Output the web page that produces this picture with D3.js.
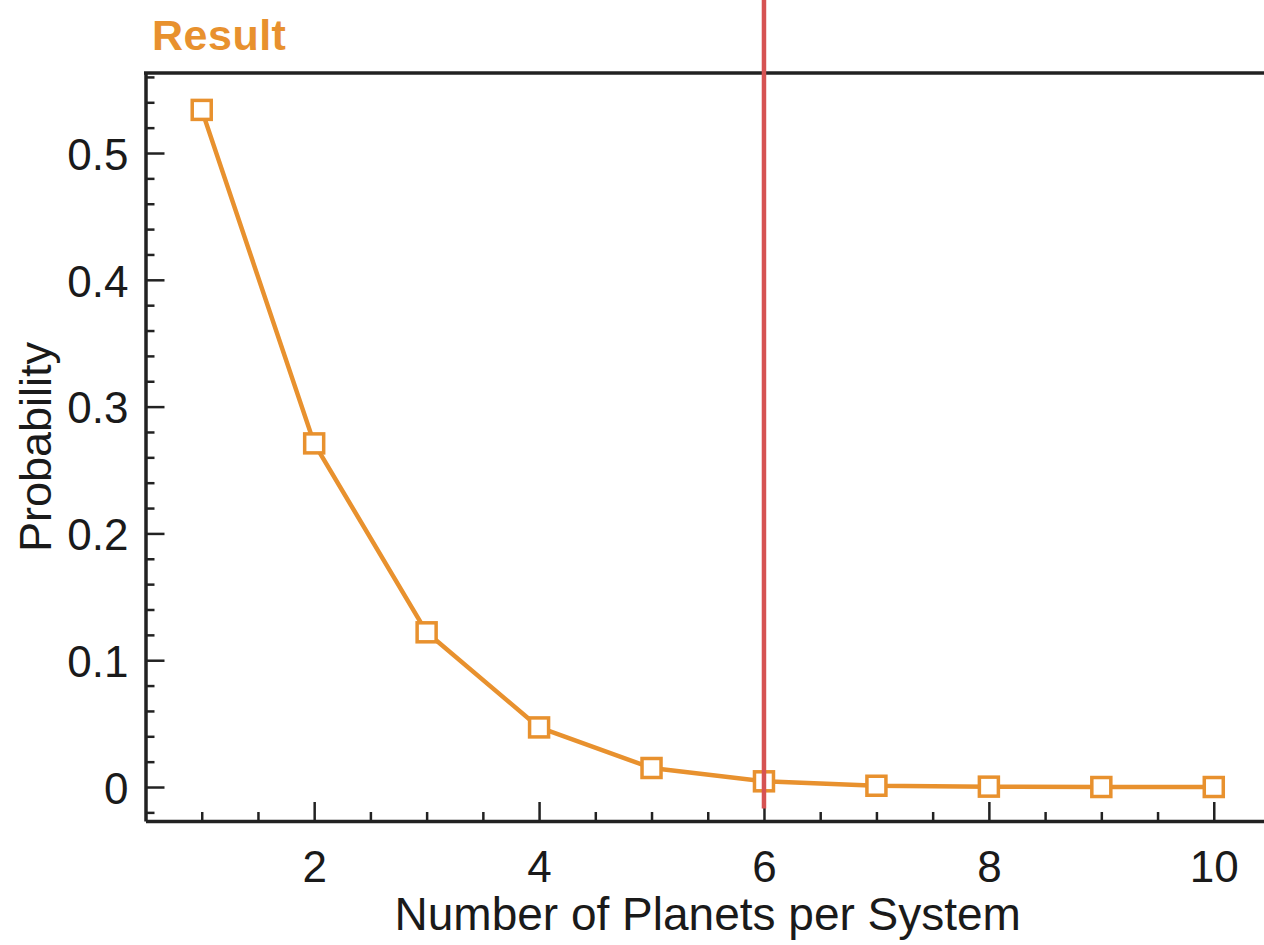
<!DOCTYPE html>
<html>
<head>
<meta charset="utf-8">
<script src="https://cdn.jsdelivr.net/npm/d3@7"></script>
<style>
  html, body { margin: 0; padding: 0; background: #fff; }
  svg { display: block; }
  text { font-family: "Liberation Sans", Arial, Helvetica, sans-serif; fill: #1a1a1a; }
</style>
</head>
<body>
<svg id="chart" width="1264" height="945"></svg>
<script>
// Number of planets in a system and its probability
const planets = [1, 2, 3, 4, 5, 6, 7, 8, 9, 10];
const probability = [0.534, 0.271, 0.122, 0.047, 0.015, 0.0045, 0.001, 0.0003, 0.0, 0.0];

// Axis ticks and labels
const xMajorTicks = [2, 4, 6, 8, 10];
const xMinorTicks = [1, 1.5, 2.5, 3, 3.5, 4.5, 5, 5.5, 6.5, 7, 7.5, 8.5, 9, 9.5, 10.5];
const yMajorTicks = [0, 0.1, 0.2, 0.3, 0.4, 0.5];
const yMinorTicks = [-0.02, 0.02, 0.04, 0.06, 0.08, 0.12, 0.14, 0.16, 0.18, 0.22, 0.24, 0.26, 0.28,
                     0.32, 0.34, 0.36, 0.38, 0.42, 0.44, 0.46, 0.48, 0.52, 0.54, 0.56];
const cutoff = 6;

const titleText = "Result";
const xLabel = "Number of Planets per System";
const yLabel = "Probability";

const orange = "#e8912e";
const red = "#d65353";

const svg = d3.select("#chart");
const plotLeft = 145.5, plotRight = 1270, plotTop = 73, plotBottom = 821;

const x = d3.scaleLinear().domain([0.5, 10.5]).range([plotLeft, plotRight]);
const y = d3.scaleLinear().domain([-0.0268, 0.5631]).range([plotBottom, plotTop]);

// Title
svg.append("text")
  .attr("x", 152).attr("y", 50)
  .style("font-size", "43px").style("font-weight", "bold")
  .style("letter-spacing", "0.5px")
  .style("fill", orange)
  .text(titleText);

// Top frame line
svg.append("line")
  .attr("x1", plotLeft - 1.5).attr("x2", plotRight).attr("y1", plotTop).attr("y2", plotTop)
  .attr("stroke", "#222").attr("stroke-width", 3.5);

// X axis: major and minor ticks pointing inward
const gx = svg.append("g").attr("transform", `translate(0,${plotBottom})`);
gx.call(d3.axisBottom(x).tickValues(xMajorTicks).tickSize(-19).tickSizeOuter(0).tickPadding(30)
  .tickFormat(d3.format("d")));
gx.append("g").call(d3.axisBottom(x).tickValues(xMinorTicks).tickSize(-9).tickSizeOuter(0).tickFormat(""))
  .select(".domain").remove();

// Y axis
const gy = svg.append("g").attr("transform", `translate(${plotLeft},0)`);
gy.call(d3.axisLeft(y).tickValues(yMajorTicks).tickSize(-19).tickSizeOuter(0).tickPadding(17)
  .tickFormat(d => d === 0 ? "0" : d3.format(".1f")(d)));
gy.append("g").call(d3.axisLeft(y).tickValues(yMinorTicks).tickSize(-9).tickSizeOuter(0).tickFormat(""))
  .select(".domain").remove();

svg.selectAll(".domain").attr("stroke", "#222").attr("stroke-width", 3.5);
svg.selectAll(".tick line").attr("stroke", "#222").attr("stroke-width", 2.5);
svg.selectAll(".tick text").style("font-size", "44px").attr("fill", "#1a1a1a")
  .style("font-family", "'Liberation Sans', Arial, sans-serif");
gy.selectAll(".tick text").attr("dy", "0.37em");
gx.selectAll(".tick text").attr("dy", "0.71em");

// Axis titles
svg.append("text")
  .attr("x", (plotLeft + plotRight) / 2).attr("y", 930)
  .attr("text-anchor", "middle")
  .style("font-size", "46px")
  .text(xLabel);

svg.append("text")
  .attr("transform", `translate(51,${(plotTop + plotBottom) / 2}) rotate(-90)`)
  .attr("text-anchor", "middle")
  .style("font-size", "45px")
  .text(yLabel);

// Probability curve
const pts = planets.map((p, i) => [p, probability[i]]);
svg.append("path")
  .datum(pts)
  .attr("fill", "none")
  .attr("stroke", orange)
  .attr("stroke-width", 4.5)
  .attr("stroke-linejoin", "round")
  .attr("d", d3.line().x(d => x(d[0])).y(d => y(d[1])));

const size = 19;
svg.append("g").selectAll("rect")
  .data(pts)
  .join("rect")
  .attr("x", d => x(d[0]) - size / 2)
  .attr("y", d => y(d[1]) - size / 2)
  .attr("width", size).attr("height", size)
  .attr("fill", "#fff")
  .attr("stroke", orange)
  .attr("stroke-width", 3.5);

// Cutoff marker
svg.append("line")
  .attr("x1", x(cutoff)).attr("x2", x(cutoff))
  .attr("y1", 0).attr("y2", y(-0.017))
  .attr("stroke", red).attr("stroke-width", 4.5);
</script>
</body>
</html>
